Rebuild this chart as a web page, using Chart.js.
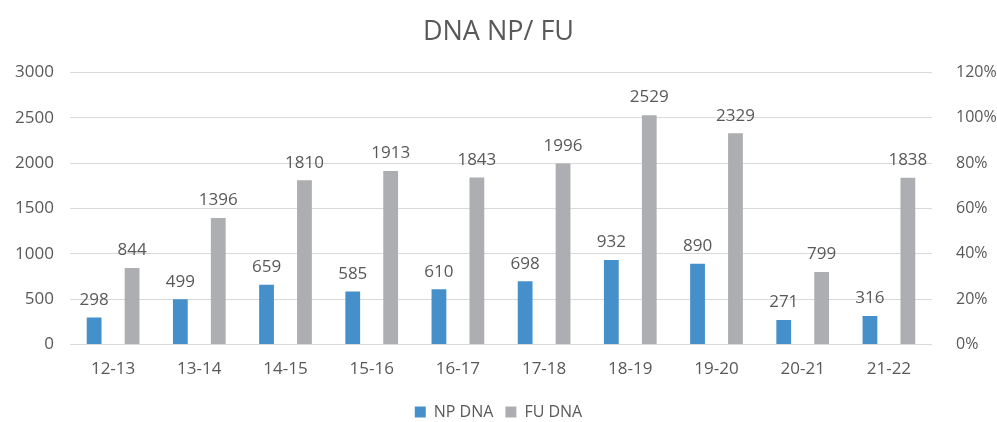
<!DOCTYPE html>
<html>
<head>
<meta charset="utf-8">
<script src="https://cdn.jsdelivr.net/npm/chart.js@4.4.1/dist/chart.umd.min.js"></script>
<style>
    html, body { margin: 0; padding: 0; background: #fff; }
    #wrap { width: 997px; height: 422px; position: relative; }
</style>
</head>
<body>
<div id="wrap"><canvas id="dna_graph"></canvas></div>
<script>
const years = ['12-13', '13-14', '14-15', '15-16', '16-17', '17-18', '18-19', '19-20', '20-21', '21-22'];
const np_dna = [298, 499, 659, 585, 610, 698, 932, 890, 271, 316];
const fu_dna = [844, 1396, 1810, 1913, 1843, 1996, 2529, 2329, 799, 1838];
const pct_ticks = [0, 0.2, 0.4, 0.6, 0.8, 1.0, 1.2];

const textColor = '#595959';
const fontFamily = "'Open Sans', 'DejaVu Sans', sans-serif";

// values written above each bar
const barLabels = {
    id: 'barLabels',
    afterDatasetsDraw(chart) {
        const ctx = chart.ctx;
        ctx.save();
        ctx.fillStyle = textColor;
        ctx.font = '17px ' + fontFamily;
        ctx.textAlign = 'center';
        ctx.textBaseline = 'bottom';
        chart.data.datasets.forEach(function (ds, i) {
            chart.getDatasetMeta(i).data.forEach(function (bar, j) {
                ctx.fillText(ds.data[j], bar.x, bar.y - 9);
            });
        });
        ctx.restore();
    }
};

new Chart(document.getElementById('dna_graph'), {
    type: 'bar',
    data: {
        labels: years,
        datasets: [
            {
                label: 'NP DNA',
                data: np_dna,
                backgroundColor: '#4590ca'
            },
            {
                label: 'FU DNA',
                data: fu_dna,
                backgroundColor: '#adaeb1'
            }
        ]
    },
    options: {
        responsive: true,
        maintainAspectRatio: false,
        animation: false,
        categoryPercentage: 0.88,
        barPercentage: 0.39,
        layout: {
            padding: { top: 14, bottom: -8, left: 0, right: 0 }
        },
        plugins: {
            title: {
                display: true,
                text: 'DNA NP/ FU',
                color: textColor,
                font: { family: fontFamily, size: 27, weight: 'normal' },
                padding: { top: 2, bottom: 24 }
            },
            legend: {
                position: 'bottom',
                labels: {
                    color: textColor,
                    font: { family: fontFamily, size: 16 },
                    boxWidth: 11,
                    boxHeight: 11,
                    padding: 12
                }
            },
            tooltip: { enabled: false }
        },
        scales: {
            x: {
                grid: { display: false },
                border: { display: false },
                ticks: {
                    color: textColor,
                    font: { family: fontFamily, size: 17 },
                    padding: 6
                },
                afterFit: function (scale) { scale.height += 7; }
            },
            y: {
                position: 'left',
                min: 0,
                max: 3000,
                ticks: {
                    stepSize: 500,
                    color: textColor,
                    font: { family: fontFamily, size: 17 },
                    padding: 16,
                    callback: function (v) { return String(v); }
                },
                grid: { color: '#d9d9d9', drawTicks: false },
                border: { display: false },
                afterFit: function (scale) { scale.width = 70; }
            },
            y2: {
                position: 'right',
                min: 0,
                max: 1.2,
                afterBuildTicks: function (scale) {
                    scale.ticks = pct_ticks.map(function (v) { return { value: v }; });
                },
                ticks: {
                    color: textColor,
                    font: { family: fontFamily, size: 16 },
                    padding: 16,
                    callback: function (v) { return Math.round(v * 100) + '%'; }
                },
                grid: { display: false },
                border: { display: false },
                afterFit: function (scale) { scale.width = 65; }
            }
        }
    },
    plugins: [barLabels]
});
</script>
</body>
</html>
